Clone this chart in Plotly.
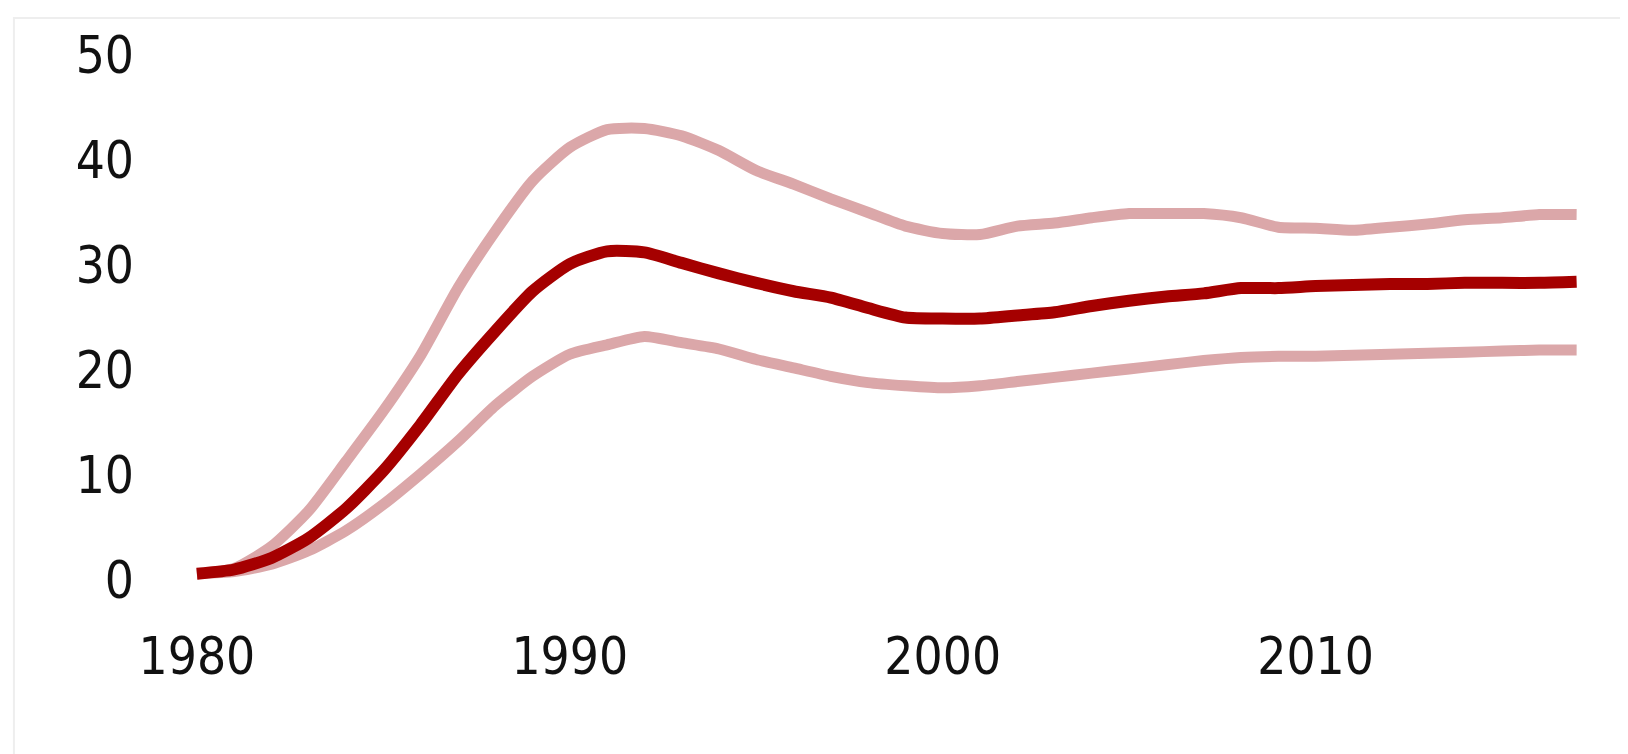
import plotly.graph_objects as go

years = list(range(1980, 2018))

central = [0.6, 1.0, 2.1, 4.0, 6.8, 10.4, 14.8, 19.6, 23.7, 27.5, 30.1, 31.3, 31.2, 30.2, 29.2, 28.3,
           27.5, 26.9, 25.9, 25.0, 24.9, 24.9, 25.2, 25.5, 26.1, 26.6, 27.0, 27.3, 27.8, 27.8, 28.0,
           28.1, 28.2, 28.2, 28.3, 28.3, 28.3, 28.4]

upper = [0.6, 1.1, 3.2, 6.6, 11.3, 16.1, 21.4, 27.8, 33.2, 38.0, 41.2, 42.9, 43.0, 42.3, 40.9, 39.0,
         37.7, 36.3, 35.0, 33.7, 33.0, 32.9, 33.7, 34.0, 34.5, 34.9, 34.9, 34.9, 34.5, 33.6, 33.5,
         33.3, 33.6, 33.9, 34.3, 34.5, 34.8, 34.8]

lower = [0.6, 0.8, 1.5, 2.8, 4.7, 7.2, 10.1, 13.2, 16.6, 19.4, 21.5, 22.4, 23.2, 22.6, 22.0, 21.0,
         20.2, 19.4, 18.8, 18.5, 18.3, 18.5, 18.9, 19.3, 19.7, 20.1, 20.5, 20.9, 21.2, 21.3, 21.3,
         21.4, 21.5, 21.6, 21.7, 21.8, 21.9, 21.9]

x_ticks = [1980, 1990, 2000, 2010]
y_ticks = [0, 10, 20, 30, 40, 50]

light = "#DBA7A9"
dark = "#A50000"

fig = go.Figure()
for ys, col, w in [(upper, light, 11), (lower, light, 11), (central, dark, 12)]:
    fig.add_trace(go.Scatter(x=years, y=ys, mode="lines",
                             line=dict(color=col, width=w, shape="spline", smoothing=0.6),
                             hoverinfo="skip", showlegend=False))

font = dict(family="DejaVu Sans Condensed, DejaVu Sans, sans-serif", size=51, color="#111111")

fig.update_layout(
    width=1628, height=754,
    margin=dict(l=127, r=37, t=26, b=140),
    paper_bgcolor="white", plot_bgcolor="white",
    xaxis=dict(range=[1978.34, 2017.6], tickvals=x_ticks, showgrid=False, zeroline=False,
               showline=False, ticks="", tickfont=font),
    yaxis=dict(range=[-4, 52], tickvals=y_ticks, showgrid=False, zeroline=False,
               showline=False, ticks="", tickfont=font),
    shapes=[dict(type="rect", xref="paper", yref="paper", x0=-0.0827, x1=1.05, y0=-0.3, y1=1.027,
                 line=dict(color="#EEEEEE", width=2), fillcolor="rgba(0,0,0,0)", layer="below")],
)

fig.write_html("out.html")
